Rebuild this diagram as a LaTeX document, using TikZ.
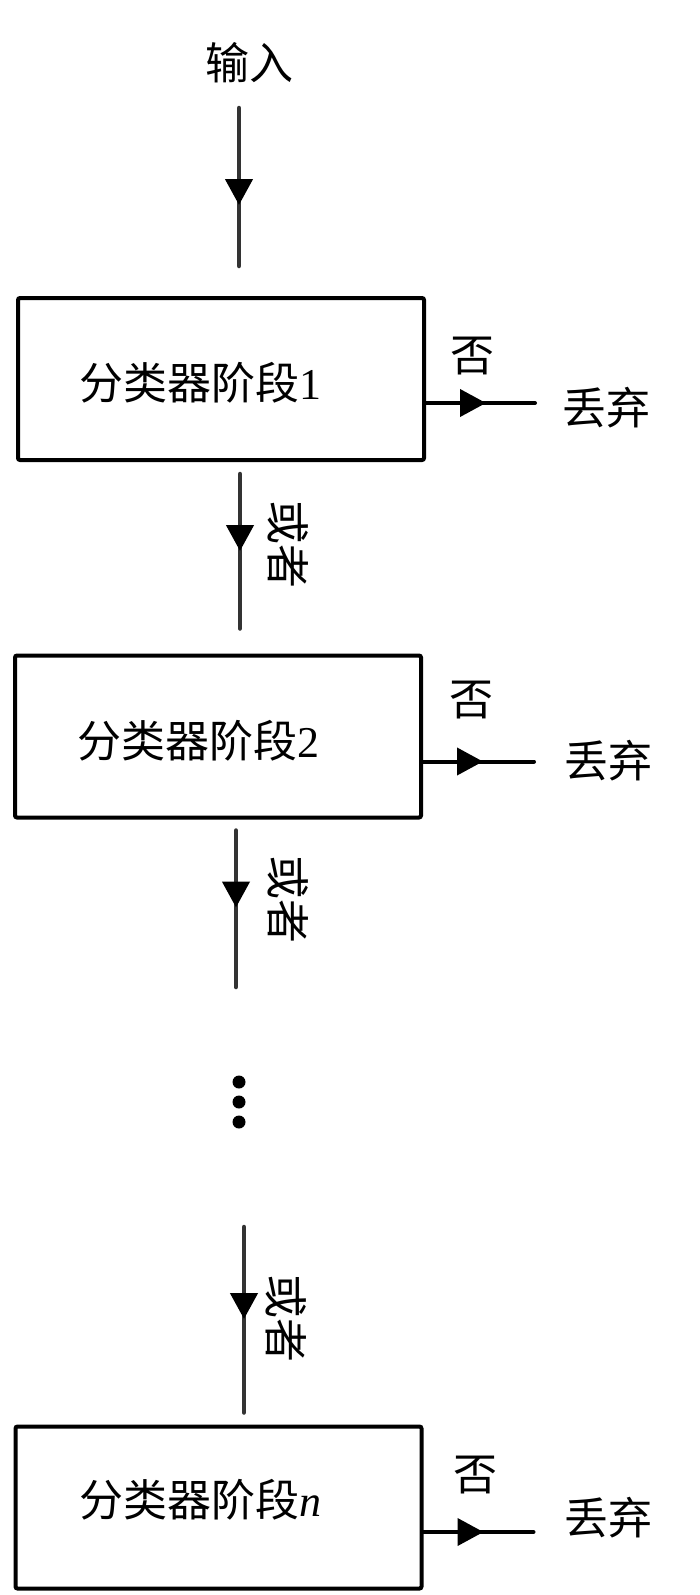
\documentclass[tikz,border=0pt]{standalone}
\usepackage{fontspec}
\setmainfont{Liberation Serif}
\newfontfamily\cjk{Noto Sans CJK SC}
\usetikzlibrary{arrows.meta,decorations.markings}
\begin{document}
\begin{tikzpicture}[x=1pt,y=-1pt,
  lbl/.style={inner sep=0pt, font=\cjk\fontsize{44}{50}\selectfont},
  stagebox/.style={draw=black, line width=4pt, minimum width=406pt, minimum height=162pt, inner sep=0pt, rounded corners=2pt},
  flow/.style={draw=black!80, line width=4.5pt, line cap=round, postaction={decorate},
    decoration={markings, mark=at position #1 with {\arrow[black]{Triangle[length=26pt,width=27pt]}}}},
  hflow/.style={flow=#1, draw=black, line width=4pt},
]
\useasboundingbox (0,0) rectangle (700,1595);

% input
\node[lbl] (in) at (249.5,63) {输入};

% boxes
\node[stagebox] (b1) at (221,379) {};
\node[stagebox] (b2) at (218,736.5) {};
\node[stagebox] (bn) at (218.5,1507.5) {};

% box texts
\node[lbl] (t1) at (200,383) {分类器阶段\rmfamily 1};
\node[lbl] (t2) at (198,741) {分类器阶段\rmfamily 2};
\node[lbl] (tn) at (200,1500) {分类器阶段\rmfamily\itshape n};

% no / discard labels
\node[lbl] (no1) at (472,356) {否};
\node[lbl] (d1) at (606,408) {丢弃};
\node[lbl] (no2) at (471,700) {否};
\node[lbl] (d2) at (608,761) {丢弃};
\node[lbl] (non) at (475,1475) {否};
\node[lbl] (dn) at (608,1518) {丢弃};

% or labels (rotated)
\node[lbl, rotate=-90] (or1) at (288,544) {或者};
\node[lbl, rotate=-90] (or2) at (288,899) {或者};
\node[lbl, rotate=-90] (or3) at (286,1318) {或者};

% ellipsis
\node[inner sep=0pt, minimum width=14pt, minimum height=54pt] (dots) at (239,1102) {};
\fill (dots.center) ++(0,-20) circle[radius=6.5pt];
\fill (dots.center) circle[radius=6.5pt];
\fill (dots.center) ++(0,20) circle[radius=6.5pt];

% vertical connectors
\draw[flow=97pt] ([shift={(-10.5,45)}]in.center) -- ([shift={(18,-30)}]b1.north);
\draw[flow=77pt] ([shift={(19,12)}]b1.south) -- ([shift={(22,-25)}]b2.north);
\draw[flow=77pt] ([shift={(18,11)}]b2.south) -- ([shift={(-3,-115)}]dots.center);
\draw[flow=92pt] ([shift={(5,125)}]dots.center) -- ([shift={(25.5,-12)}]bn.north);

% horizontal connectors
\draw[hflow=60pt] ([shift={(0,24)}]b1.east) -- ++(109,0);
\draw[hflow=60pt] ([shift={(0,25)}]b2.east) -- ++(111,0);
\draw[hflow=60pt] ([shift={(0,24.5)}]bn.east) -- ++(110,0);
\end{tikzpicture}
\end{document}
